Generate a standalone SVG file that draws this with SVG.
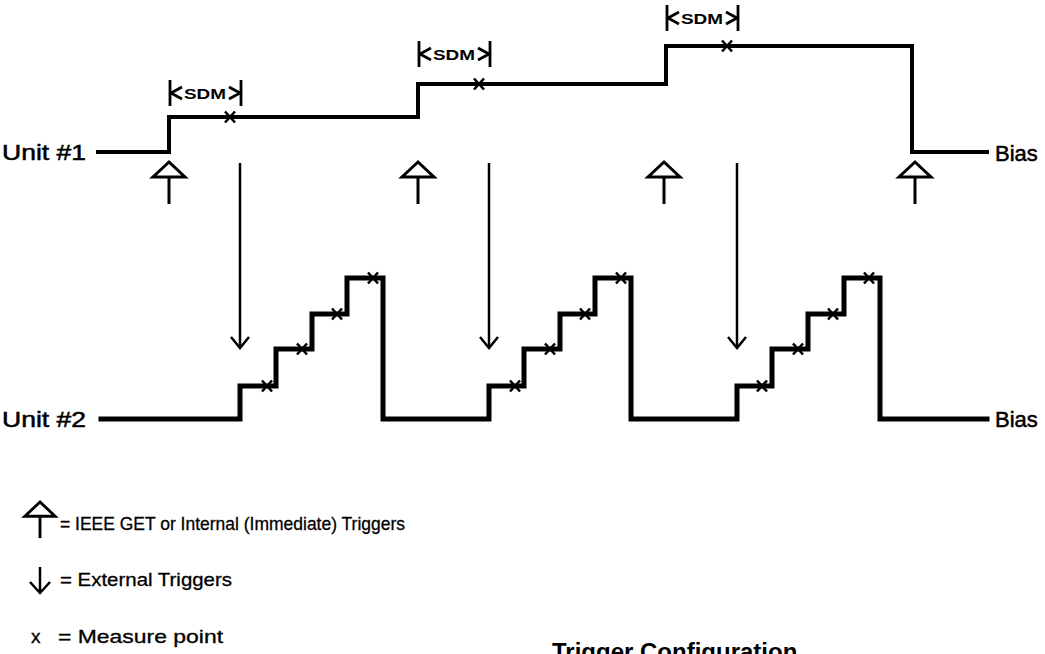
<svg xmlns="http://www.w3.org/2000/svg" width="1045" height="654" viewBox="0 0 1045 654">
<style>
text{font-family:"Liberation Sans",Arial,sans-serif;fill:#000}
.lbl{font-size:22px;stroke:#000;stroke-width:0.5}
.leg{font-size:19px;stroke:#000;stroke-width:0.3}
.sdm{font-size:15px;font-weight:bold}
.title{font-size:24px;font-weight:bold}
.wave{fill:none;stroke:#000;stroke-width:4;stroke-linejoin:miter;stroke-linecap:square}
.wave2{fill:none;stroke:#000;stroke-width:5;stroke-linejoin:miter;stroke-linecap:square}
.thin{fill:none;stroke:#000;stroke-width:2.5}
.hol{fill:#fff;stroke:#000;stroke-width:3;stroke-linejoin:miter}
.mk{stroke:#000;stroke-width:2.6}
</style>
<defs>
<g id="hollow"><line x1="0" y1="14" x2="0" y2="42" class="thin" style="stroke-width:3"/><path d="M0,0 L-16,15 H16 Z" class="hol"/></g>
<g id="down"><line x1="0" y1="0" x2="0" y2="185" class="thin"/><path d="M-9,174 L0,185 L9,174" class="thin"/></g>
<g id="x"><path d="M-5,-5.5 L5,5.5 M5,-5.5 L-5,5.5" class="mk"/></g>
<g id="sdmL"><path d="M0,0 V26 M12,7 L1,13 L12,19" class="thin" style="stroke-width:2.8"/></g>
<g id="sdmR"><path d="M0,0 V26 M-12,7 L-1,13 L-12,19" class="thin" style="stroke-width:2.8"/></g>
</defs>
<rect width="1045" height="654" fill="#fff"/>

<g id="unit1">
<text class="lbl" x="2" y="160" textLength="84" lengthAdjust="spacingAndGlyphs">Unit #1</text>
<path class="wave" d="M98,152 H169 V117 H418 V84 H666 V46 H912 V152 H987"/>
<text class="lbl" x="995" y="161">Bias</text>
<use href="#x" x="230" y="117"/>
<use href="#x" x="479" y="84"/>
<use href="#x" x="727" y="46"/>
</g>

<g id="sdm1">
<use href="#sdmL" x="170" y="80"/><use href="#sdmR" x="241" y="80"/>
<text class="sdm" x="184" y="98.5" textLength="42" lengthAdjust="spacingAndGlyphs">SDM</text>
</g>
<g id="sdm2">
<use href="#sdmL" x="419" y="41"/><use href="#sdmR" x="490" y="41"/>
<text class="sdm" x="433" y="59.5" textLength="42" lengthAdjust="spacingAndGlyphs">SDM</text>
</g>
<g id="sdm3">
<use href="#sdmL" x="667" y="5"/><use href="#sdmR" x="738" y="5"/>
<text class="sdm" x="681" y="23.5" textLength="42" lengthAdjust="spacingAndGlyphs">SDM</text>
</g>

<g id="unit2">
<text class="lbl" x="2" y="427" textLength="84" lengthAdjust="spacingAndGlyphs">Unit #2</text>
<path class="wave2" d="M101,419 H240 V386 H276 V349 H312 V314 H347 V278 H383 V419 H489 V386 H524 V349 H560 V314 H595 V278 H631 V419 H737 V386 H772 V349 H808 V314 H844 V278 H880 V419 H987"/>
<text class="lbl" x="995" y="427">Bias</text>
<use href="#x" x="267" y="386"/><use href="#x" x="302" y="349"/><use href="#x" x="337" y="314"/><use href="#x" x="373" y="278"/>
<use href="#x" x="515" y="386"/><use href="#x" x="550" y="349"/><use href="#x" x="585" y="314"/><use href="#x" x="621" y="278"/>
<use href="#x" x="762" y="386"/><use href="#x" x="798" y="349"/><use href="#x" x="833" y="314"/><use href="#x" x="869" y="278"/>
</g>

<g id="connectors">
<use href="#hollow" x="169" y="162"/>
<use href="#hollow" x="418" y="162"/>
<use href="#hollow" x="664" y="162"/>
<use href="#hollow" x="915" y="162"/>
<use href="#down" x="240" y="163"/>
<use href="#down" x="489" y="163"/>
<use href="#down" x="737" y="163"/>
</g>

<g id="legend">
<g transform="translate(40,502) scale(0.95)"><line x1="0" y1="14" x2="0" y2="38" class="thin" style="stroke-width:3"/><path d="M0,0 L-16,15 H16 Z" class="hol"/></g>
<text class="leg" x="60" y="530" textLength="345" lengthAdjust="spacingAndGlyphs">= IEEE GET or Internal (Immediate) Triggers</text>
<path d="M40,567 V592 M30,582 L40,593 L50,582" class="thin"/>
<text class="leg" x="60" y="586" textLength="172" lengthAdjust="spacingAndGlyphs">= External Triggers</text>
<text class="leg" x="31" y="643">x</text>
<text class="leg" x="58" y="643" textLength="165" lengthAdjust="spacingAndGlyphs">= Measure point</text>
</g>

<g id="title">
<text class="title" x="552" y="660">Trigger Configuration</text>
</g>
</svg>
